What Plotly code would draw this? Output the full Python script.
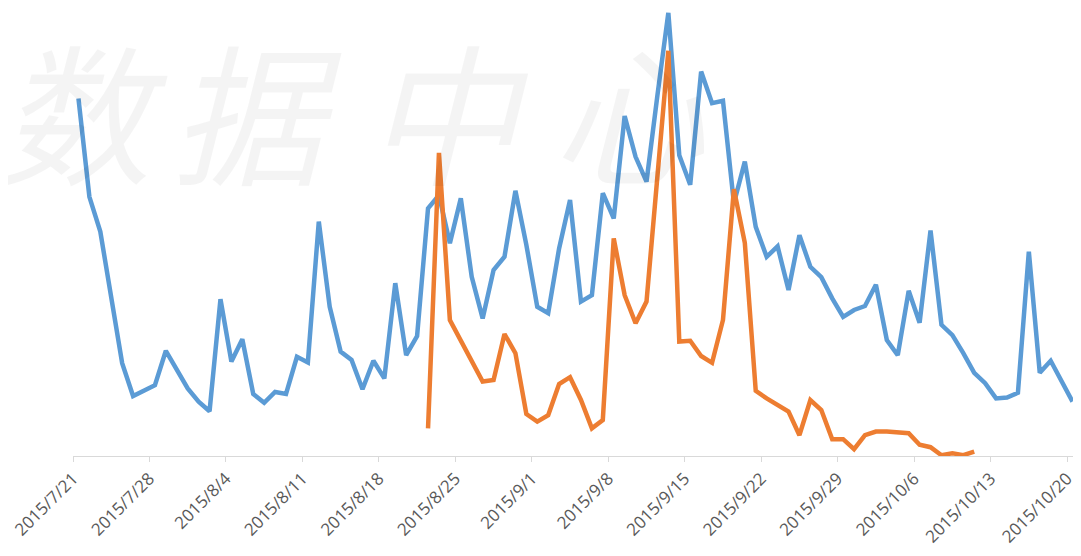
import datetime as dt
import plotly.graph_objects as go

start = dt.datetime(2015, 7, 21, 12)

blue_values = [
    89.4, 64.8, 56.1, 39.7, 23.2, 15.0, 16.3, 17.7, 26.3, 21.7,
    16.9, 13.6, 11.2, 39.2, 23.6, 29.2, 15.5, 13.3, 16.0, 15.5,
    24.8, 23.4, 58.6, 37.3, 26.1, 24.0, 16.7, 23.8, 19.4, 43.2,
    25.2, 30.0, 61.9, 65.2, 53.2, 64.4, 44.8, 34.4, 46.5, 49.8,
    66.3, 52.8, 37.3, 35.7, 51.9, 64.0, 38.6, 40.2, 65.7, 59.4,
    85.0, 74.8, 68.6, 90.2, 110.8, 75.2, 67.8, 96.1, 88.2, 88.8,
    63.2, 73.6, 57.3, 49.8, 52.4, 41.5, 55.2, 47.3, 44.7, 39.4,
    34.8, 36.5, 37.5, 42.8, 29.0, 25.2, 41.3, 33.3, 56.4, 32.8,
    30.2, 25.7, 20.8, 18.2, 14.4, 14.6, 15.8, 51.1, 20.8, 23.8,
    18.6, 13.6,
]
blue_dates = [start + dt.timedelta(days=i) for i in range(len(blue_values))]

orange_start = dt.datetime(2015, 8, 22, 12)
orange_values = [
    6.9, 75.8, 34.0, 28.7, 23.7, 18.6, 19.0, 30.5, 25.7, 10.5,
    8.6, 10.2, 18.0, 19.7, 14.0, 6.9, 9.0, 54.4, 40.2, 33.2,
    38.6, 70.2, 101.3, 28.6, 28.8, 25.0, 23.3, 34.0, 66.7, 53.3,
    16.3, 14.4, 12.9, 11.1, 5.2, 14.0, 11.5, 4.2, 4.2, 1.7,
    5.2, 6.1, 6.1, 5.8, 5.7, 2.8, 2.2, 0.2, 0.7, 0.2,
    1.1,
]
orange_dates = [orange_start + dt.timedelta(days=i) for i in range(len(orange_values))]

tick_dates = [dt.datetime(2015, 7, 21) + dt.timedelta(days=7 * k) for k in range(14)]
tick_labels = ["2015/7/21", "2015/7/28", "2015/8/4", "2015/8/11", "2015/8/18",
               "2015/8/25", "2015/9/1", "2015/9/8", "2015/9/15", "2015/9/22",
               "2015/9/29", "2015/10/6", "2015/10/13", "2015/10/20"]

watermark_chars = ["数", "据", "中", "心"]
watermark_x = [0.010, 0.183, 0.3725, 0.553]

fig = go.Figure()
fig.add_trace(go.Scatter(x=blue_dates, y=blue_values, mode="lines",
                         line=dict(color="#5B9BD5", width=4.5), name="blue"))
fig.add_trace(go.Scatter(x=orange_dates, y=orange_values, mode="lines",
                         line=dict(color="#ED7D31", width=4.5), name="orange"))

for ch, xp in zip(watermark_chars, watermark_x):
    fig.add_annotation(text=ch, xref="paper", yref="paper", x=xp, y=0.777,
                       showarrow=False, xanchor="center", yanchor="middle",
                       font=dict(family="Noto Sans CJK SC", size=152,
                                 color="rgba(0,0,0,0.045)", style="italic"))

fig.update_layout(
    width=1073, height=548,
    margin=dict(l=65, r=3, t=0, b=100, autoexpand=False),
    paper_bgcolor="white", plot_bgcolor="white",
    showlegend=False,
    xaxis=dict(type="date", range=[dt.datetime(2015, 7, 21), dt.datetime(2015, 10, 21)],
               tickvals=tick_dates, ticktext=tick_labels, tickangle=-45,
               automargin=False,
               showgrid=False, zeroline=False,
               showline=True, linecolor="#D9D9D9", linewidth=1,
               ticks="outside", ticklen=5, tickcolor="#D9D9D9",
               tickfont=dict(family="Open Sans", size=17, color="#595959")),
    yaxis=dict(range=[0, 112.0], visible=False, showgrid=False, zeroline=False,
               automargin=False),
)

fig.write_html("out.html")
